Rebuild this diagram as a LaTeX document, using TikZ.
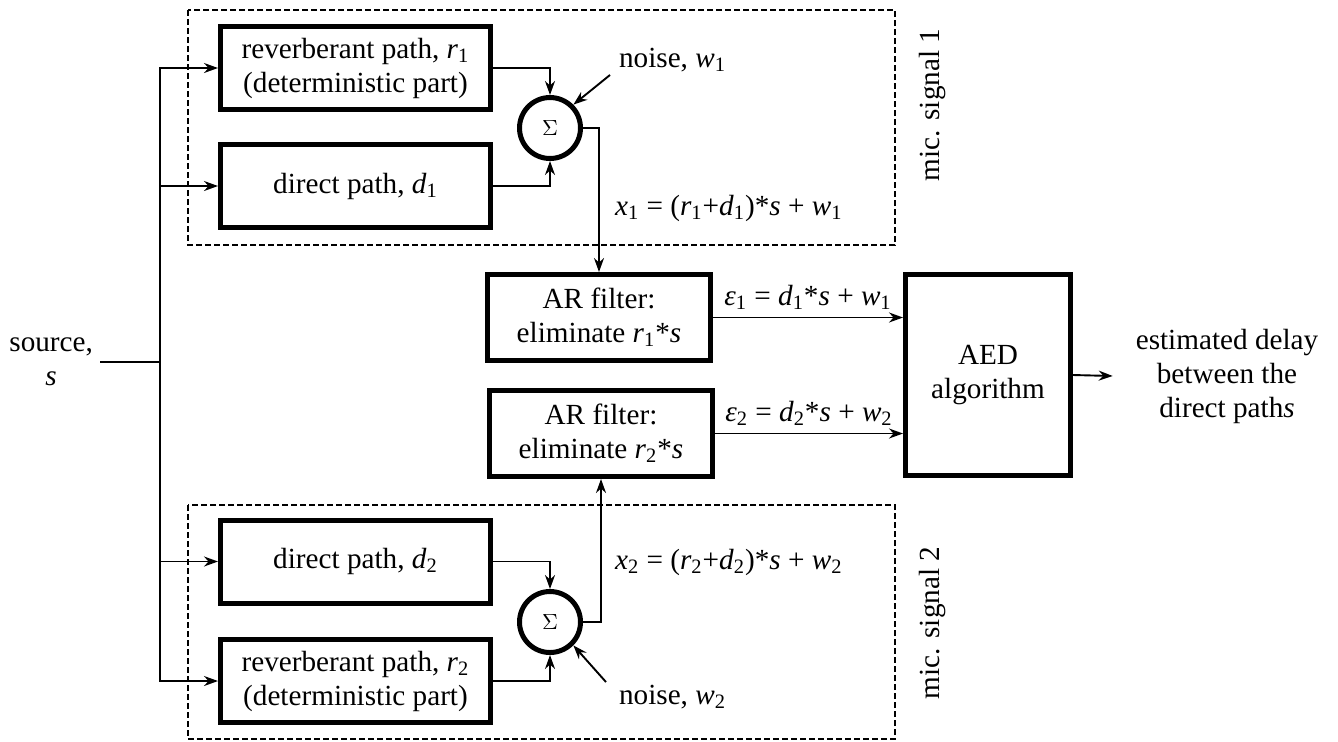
\documentclass[tikz,border=0pt]{standalone}
\usepackage{fontspec}
\setmainfont{Liberation Serif}
\usetikzlibrary{arrows.meta}
\newcommand{\sv}[2]{\textit{#1}\textsubscript{#2}}

\begin{document}
\begin{tikzpicture}[x=0.5pt,y=-0.5pt,font=\fontsize{14.6}{17}\selectfont,
  block/.style={draw,line width=2.5pt,minimum width=135pt,minimum height=41.5pt,align=center,inner sep=2pt},
  sumnode/.style={draw,circle,line width=2.5pt,minimum size=30.5pt,inner sep=0pt,font=\fontsize{11}{13}\selectfont},
  sig/.style={line width=0.95pt,-{Stealth[length=7pt,width=5pt]}},
  group/.style={draw,line width=0.6pt,dash pattern=on 3pt off 1.5pt}]
\useasboundingbox (0,0) rectangle (1338,741);
\draw[group] (188,10) rectangle (895,245);
\draw[group] (188,505) rectangle (895,739);
\node[rotate=90] (mic1) at (933,105) {mic. signal 1};
\node[rotate=90] (mic2) at (933,623) {mic. signal 2};

\node[block] (r1) at (355.5,68) {reverberant path, \sv{r}{1}\\(deterministic part)};
\node[block] (d1) at (355.5,186) {direct path, \sv{d}{1}};
\node[sumnode] (s1) at (550,128) {$\Sigma$};
\node[block] (d2) at (355.5,561.5) {direct path, \sv{d}{2}};
\node[block] (r2) at (355.5,681) {reverberant path, \sv{r}{2}\\(deterministic part)};
\node[sumnode] (s2) at (550,622) {$\Sigma$};
\node[block,minimum width=111.5pt,minimum height=43pt] (ar1) at (599,317.5) {AR filter:\\eliminate \sv{r}{1}*\textit{s}};
\node[block,minimum width=111.5pt,minimum height=43pt] (ar2) at (601,433.5) {AR filter:\\eliminate \sv{r}{2}*\textit{s}};
\node[block,minimum width=82.5pt,minimum height=100.5pt] (aed) at (988,375) {AED\\algorithm};

\node[align=center,anchor=east] (src) at (100,362) {source,\\\textit{s}};
\node[align=center] (out) at (1227,376) {estimated delay\\between the\\direct path\textit{s}};
\node[anchor=west] (n1) at (612,60) {noise, \sv{w}{1}};
\node[anchor=west] (n2) at (612,697) {noise, \sv{w}{2}};
\node[anchor=west] (x1) at (608,208) {\sv{x}{1} = (\sv{r}{1}+\sv{d}{1})*\textit{s} + \sv{w}{1}};
\node[anchor=west] (x2) at (608,562) {\sv{x}{2} = (\sv{r}{2}+\sv{d}{2})*\textit{s} + \sv{w}{2}};

\coordinate (bus) at (160,362);
\draw[line width=1.3pt] (src.east) -- (bus);
\draw[sig] (bus) |- (r1.west);
\draw[sig] (bus) |- (d1.west);
\draw[sig] (bus) |- (d2.west);
\draw[sig] (bus) |- (r2.west);
\draw[sig] (r1.east) -| (s1.north);
\draw[sig] (d1.east) -| (s1.south);
\draw[sig] (d2.east) -| (s2.north);
\draw[sig] (r2.east) -| (s2.south);
\draw[sig] ([shift={(-2,-4)}]n1.south west) -- (s1.45);
\draw[sig] ([shift={(-6,4)}]n2.north west) -- (s2.-45);
\draw[sig] (s1.east) -| (ar1.north);
\draw[sig] (s2.east) -| (ar2.south);
\draw[sig] (ar1.east) -- (ar1.east -| aed.west) node[midway,above] {\textit{ε}\textsubscript{1} = \sv{d}{1}*\textit{s} + \sv{w}{1}};
\draw[sig] (ar2.east) -- (ar2.east -| aed.west) node[midway,above] {\textit{ε}\textsubscript{2} = \sv{d}{2}*\textit{s} + \sv{w}{2}};
\draw[sig] (aed.east) -- ([xshift=-8pt]out.west);
\end{tikzpicture}
\end{document}
